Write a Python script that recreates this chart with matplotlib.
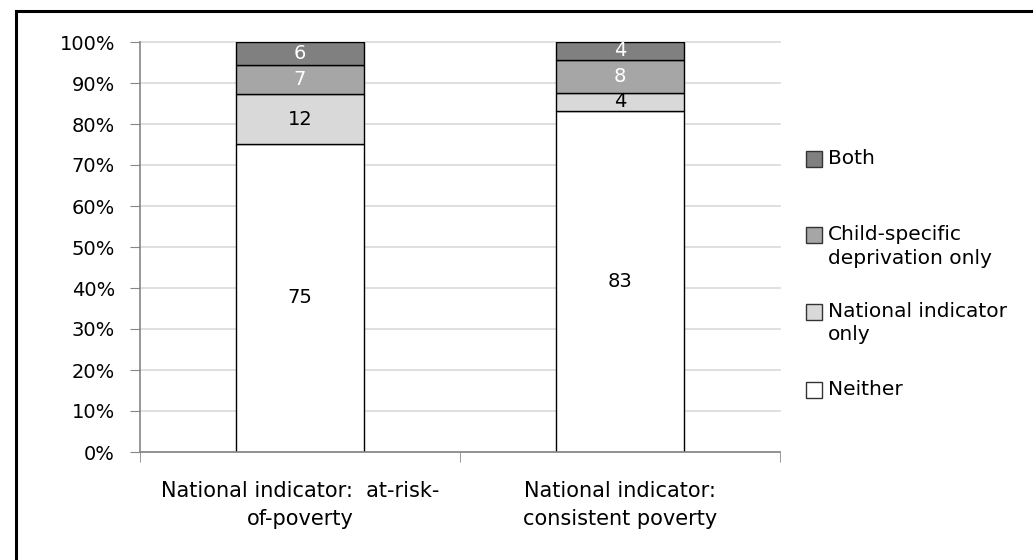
import matplotlib.pyplot as plt
from matplotlib.patches import Rectangle
import numpy as np

plt.rcParams['font.family'] = ['DejaVu Sans']

# --- данные ---
categories = ['National indicator:  at-risk-\nof-poverty',
              'National indicator:\nconsistent poverty']
series_names = ['Neither', 'National indicator only',
                'Child-specific deprivation only', 'Both']
legend_labels = ['Neither', 'National indicator\nonly',
                 'Child-specific\ndeprivation only', 'Both']
neither = [75.3, 83.2]
national_only = [12.1, 4.4]
child_only = [7.2, 8.1]
both = [5.6, 4.3]

colors = ['#ffffff', '#d9d9d9', '#a6a6a6', '#808080']
label_colors = ['black', 'black', 'white', 'white']
legend_y = [390, 312, 235, 159]  # центры значков, пиксели сверху

W, H = 1033, 560
FS = 14
fig = plt.figure(figsize=(W / 100, H / 100), dpi=100)
ax = fig.add_axes([140 / W, 1 - 452 / H, 640 / W, 410 / H])

data = np.array([neither, national_only, child_only, both])
totals = data.sum(axis=0)
pct = data / totals * 100
x = np.arange(len(categories))

ax.set_axisbelow(True)
ax.yaxis.grid(True, color='#d9d9d9', linewidth=1.2)
for gl in ax.get_ygridlines():
    gl.set_clip_on(False)

bottom = np.zeros(len(categories))
for i in range(len(series_names)):
    ax.bar(x, pct[i], 0.4, bottom=bottom, color=colors[i],
           edgecolor='black', linewidth=1.0, label=series_names[i])
    for j in range(len(categories)):
        ax.text(x[j], bottom[j] + pct[i][j] / 2, f'{data[i][j]:.0f}',
                ha='center', va='center', fontsize=FS, color=label_colors[i])
    bottom += pct[i]

ax.set_xlim(-0.5, len(categories) - 0.5)
ax.set_ylim(0, 100)
ax.set_yticks(np.arange(0, 101, 10))
ax.set_yticklabels([f'{v}%' for v in range(0, 101, 10)])
for gl in ax.get_ygridlines():
    gl.set_clip_on(False)
ax.set_xticks(x)
ax.set_xticklabels(categories, linespacing=1.5)
ax.set_xticks(np.arange(-0.5, len(categories), 1), minor=True)
ax.tick_params(axis='x', which='major', length=0, pad=21, labelsize=15)
ax.tick_params(axis='x', which='minor', length=7, color='#868686', direction='out')
ax.tick_params(axis='y', length=7, color='#868686', pad=11, labelsize=FS)

for s in ['top', 'right']:
    ax.spines[s].set_visible(False)
for s in ['left', 'bottom']:
    ax.spines[s].set_color('#868686')
    ax.spines[s].set_linewidth(1.2)

# легенда вручную (как в Excel)
for i in range(len(series_names)):
    yc = 1 - legend_y[i] / H
    fig.add_artist(Rectangle((806 / W, yc - 8 / H), 16 / W, 16 / H,
                             transform=fig.transFigure, facecolor=colors[i],
                             edgecolor='#333333', linewidth=1.0))
    fig.text(828 / W, yc + 10 / H, legend_labels[i], fontsize=14.5,
             ha='left', va='top', linespacing=1.3)

# рамка
fig.add_artist(Rectangle((16 / W, -0.1), 1.2, 1 - 11 / H + 0.1,
                         transform=fig.transFigure, fill=False,
                         edgecolor='black', linewidth=2.2, clip_on=False))

plt.savefig('out.png', dpi=100)
